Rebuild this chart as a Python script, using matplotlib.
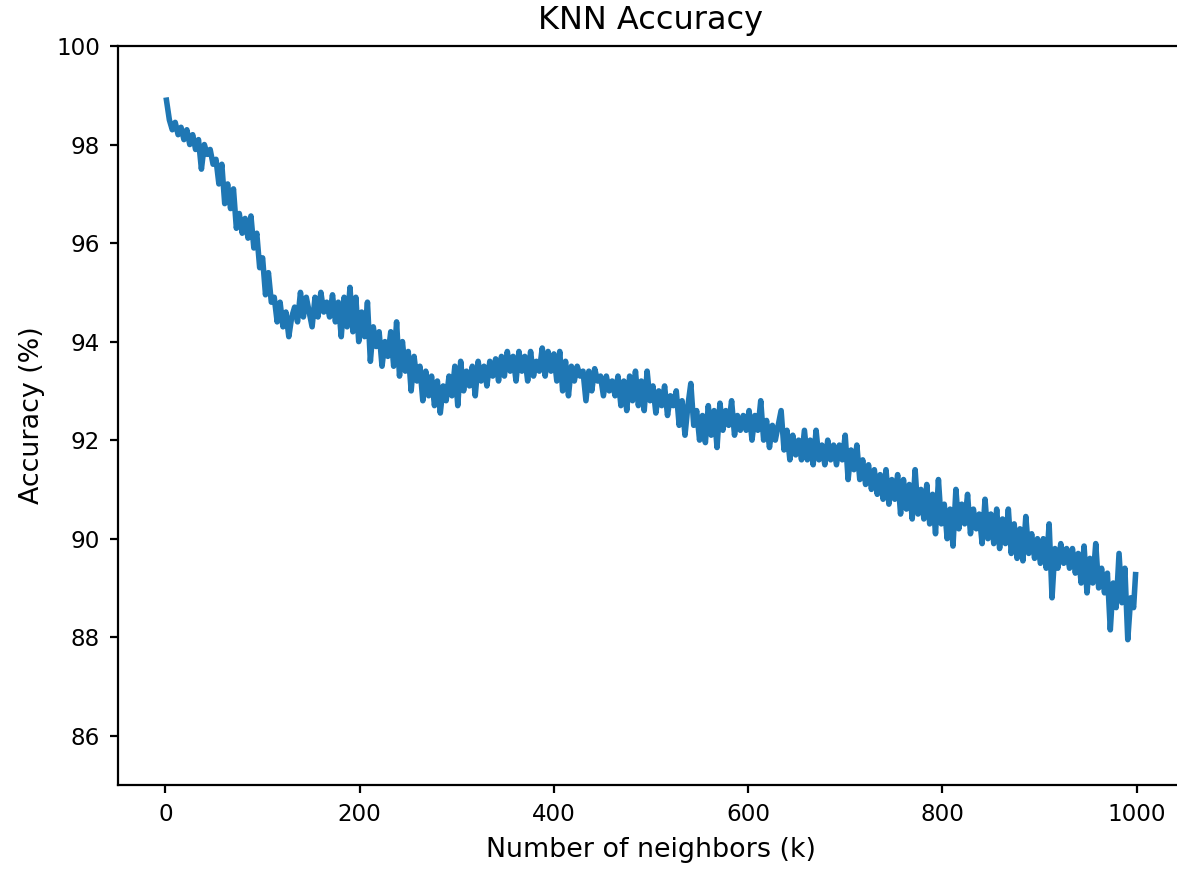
import matplotlib
matplotlib.use("Agg")
import matplotlib.pyplot as plt

# number of neighbours tried (every 3rd k, plus the last one)
k_values = list(range(1, 1000, 3)) + [999]

# test accuracy (%) for each k
accuracy = [
    98.9, 98.5, 98.3, 98.45, 98.2, 98.35, 98.1, 98.3, 98.0, 98.2,
    97.9, 98.1, 97.5, 98.0, 97.8, 97.9, 97.6, 97.7, 97.2, 97.6,
    96.8, 97.2, 96.7, 97.1, 96.3, 96.6, 96.2, 96.5, 96.1, 96.55,
    95.9, 96.2, 95.5, 95.7, 94.95, 95.4, 94.8, 94.9, 94.4, 94.8,
    94.3, 94.6, 94.1, 94.5, 94.7, 94.4, 95.0, 94.5, 94.9, 94.6,
    94.3, 94.9, 94.5, 95.0, 94.6, 94.8, 94.5, 94.95, 94.4, 94.8,
    94.1, 94.9, 94.3, 95.1, 94.2, 94.9, 94.0, 94.6, 94.1, 94.8,
    93.6, 94.3, 93.9, 94.2, 93.5, 94.0, 93.7, 94.2, 93.5, 94.4,
    93.3, 94.0, 93.4, 93.8, 93.0, 93.7, 93.2, 93.5, 92.8, 93.4,
    92.9, 93.3, 92.7, 93.2, 92.55, 93.1, 92.8, 93.3, 92.9, 93.5,
    92.7, 93.6, 93.0, 93.4, 93.1, 93.5, 92.9, 93.6, 93.2, 93.5,
    93.1, 93.6, 93.3, 93.65, 93.2, 93.7, 93.3, 93.8, 93.4, 93.7,
    93.2, 93.8, 93.4, 93.7, 93.2, 93.8, 93.3, 93.6, 93.4, 93.87,
    93.3, 93.8, 93.4, 93.75, 93.2, 93.8, 93.0, 93.6, 92.9, 93.5,
    93.2, 93.5, 93.3, 93.4, 92.8, 93.4, 93.0, 93.45, 93.2, 93.3,
    92.9, 93.3, 93.0, 93.2, 92.9, 93.3, 92.7, 93.2, 92.6, 93.3,
    92.8, 93.4, 92.7, 93.2, 92.6, 93.4, 92.8, 93.1, 92.55, 93.0,
    92.7, 93.1, 92.5, 92.9, 92.7, 93.0, 92.3, 92.8, 92.1, 92.7,
    93.15, 92.3, 92.6, 92.0, 92.5, 91.95, 92.7, 92.1, 92.6, 91.85,
    92.75, 92.2, 92.6, 92.3, 92.8, 92.1, 92.5, 92.2, 92.5, 92.2,
    92.6, 92.0, 92.5, 92.2, 92.8, 92.0, 92.4, 91.85, 92.3, 92.0,
    92.3, 92.6, 91.8, 92.2, 91.6, 92.1, 91.7, 92.0, 91.6, 92.2,
    91.6, 92.0, 91.5, 92.2, 91.6, 91.9, 91.5, 92.0, 91.6, 91.9,
    91.5, 91.9, 91.6, 92.1, 91.2, 91.8, 91.4, 91.9, 91.2, 91.6,
    91.1, 91.5, 91.0, 91.4, 90.9, 91.3, 90.8, 91.4, 90.7, 91.2,
    90.8, 91.3, 90.5, 91.2, 90.6, 91.1, 90.4, 91.4, 90.5, 91.0,
    90.4, 91.1, 90.3, 90.9, 90.1, 91.2, 90.3, 90.7, 90.0, 90.6,
    89.85, 91.0, 90.2, 90.7, 90.3, 90.9, 90.1, 90.6, 90.2, 90.5,
    89.9, 90.8, 90.0, 90.5, 89.9, 90.6, 89.8, 90.4, 89.9, 90.6,
    89.7, 90.3, 89.6, 90.2, 89.55, 90.45, 89.7, 90.1, 89.6, 90.0,
    89.5, 90.0, 89.4, 90.3, 88.8, 89.8, 89.4, 89.9, 89.5, 89.8,
    89.4, 89.8, 89.3, 89.7, 89.1, 89.85, 88.9, 89.6, 89.1, 89.9,
    89.0, 89.4, 88.9, 89.3, 88.15, 89.1, 88.6, 89.7, 88.7, 89.4,
    87.95, 88.8, 88.6,
    89.27,
]

plt.rcParams['xtick.labelsize'] = 8.3
plt.rcParams['ytick.labelsize'] = 8.3
plt.rcParams['xtick.major.size'] = 3
plt.rcParams['ytick.major.size'] = 3

fig = plt.figure(figsize=(1177 / 200, 869 / 200), dpi=200)
ax = fig.add_axes([118 / 1177, 84 / 869, 1066 / 1177, 739 / 869])

ax.plot(k_values, accuracy, linewidth=2)
ax.set_ylim(85, 100)
ax.set_title("KNN Accuracy", fontsize=11.5)
ax.set_xlabel("Number of neighbors (k)", fontsize=9.7)
ax.set_ylabel("Accuracy (%)", fontsize=9.7)

fig.savefig("out.png", dpi=200)
